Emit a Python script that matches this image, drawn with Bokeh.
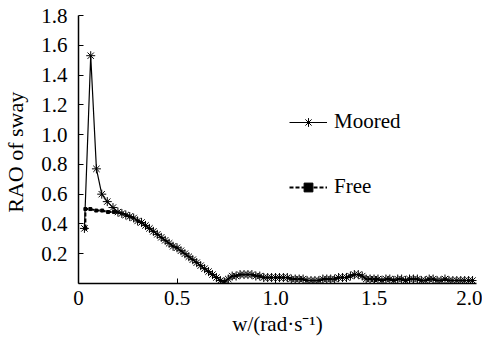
from bokeh.plotting import figure
from bokeh.models import Range1d, FixedTicker, Legend, LegendItem
from bokeh.core.properties import value
from bokeh.embed import file_html
from bokeh.resources import INLINE

# ---- data ----
moored_w = [0.03, 0.062, 0.091, 0.118, 0.146, 0.175,
            0.20, 0.22, 0.24, 0.26, 0.28, 0.30, 0.32, 0.34, 0.36, 0.38,
            0.40, 0.42, 0.44, 0.46, 0.48, 0.50, 0.52, 0.54, 0.56, 0.58,
            0.60, 0.62, 0.64, 0.66, 0.68, 0.70, 0.72, 0.74, 0.76, 0.78,
            0.80, 0.82, 0.84, 0.86, 0.88, 0.90, 0.92, 0.94, 0.96, 0.98,
            1.00, 1.02, 1.04, 1.06, 1.08, 1.10, 1.12, 1.14, 1.16, 1.18,
            1.20, 1.22, 1.24, 1.26, 1.28, 1.30, 1.32, 1.34, 1.36, 1.38,
            1.40, 1.42, 1.44, 1.46, 1.48, 1.50, 1.52, 1.54, 1.56, 1.58,
            1.60, 1.62, 1.64, 1.66, 1.68, 1.70, 1.72, 1.74, 1.76, 1.78,
            1.80, 1.82, 1.84, 1.86, 1.88, 1.90, 1.92, 1.94, 1.96, 1.98, 2.00]
moored_rao = [0.37, 1.53, 0.77, 0.60, 0.55, 0.51,
              0.48, 0.47, 0.46, 0.45, 0.44, 0.42, 0.41, 0.39, 0.37, 0.35,
              0.33, 0.31, 0.29, 0.27, 0.25, 0.24, 0.22, 0.20, 0.18, 0.16,
              0.14, 0.12, 0.10, 0.08, 0.06, 0.04, 0.02, 0.01, 0.03, 0.05,
              0.05, 0.06, 0.06, 0.06, 0.06, 0.05, 0.05, 0.04, 0.04, 0.04,
              0.04, 0.04, 0.04, 0.04, 0.03, 0.03, 0.03, 0.03, 0.02, 0.02,
              0.02, 0.02, 0.03, 0.03, 0.03, 0.03, 0.04, 0.04, 0.04, 0.05,
              0.06, 0.06, 0.05, 0.03, 0.03, 0.03, 0.03, 0.02, 0.03, 0.03,
              0.02, 0.03, 0.03, 0.02, 0.03, 0.03, 0.03, 0.02, 0.02, 0.03,
              0.03, 0.02, 0.02, 0.03, 0.02, 0.02, 0.02, 0.02, 0.02, 0.02, 0.02]

free_head_w = [0.035, 0.035, 0.06, 0.09, 0.12, 0.15, 0.18]
free_head_rao = [0.37, 0.50, 0.50, 0.49, 0.49, 0.48, 0.48]
free_w = free_head_w + moored_w[6:]
free_rao = free_head_rao + moored_rao[6:]

y_ticks = [0.2, 0.4, 0.6, 0.8, 1.0, 1.2, 1.4, 1.6, 1.8]
x_ticks = [0, 0.5, 1.0, 1.5, 2.0]
x_tick_labels = ["0", "0.5", "1.0", "1.5", "2.0"]
y_label = "RAO of  sway"
x_label = "w/(rad·s⁻¹)"
series_names = ["Moored", "Free"]

FONT = "Liberation Serif"

p = figure(width=482, height=341, output_backend="svg", toolbar_location=None,
           x_range=Range1d(0, 2.02), y_range=Range1d(0, 1.8),
           min_border_left=76, min_border_right=6, min_border_top=15,
           min_border_bottom=58)
p.outline_line_color = None
p.xgrid.visible = False
p.ygrid.visible = False
p.background_fill_color = "white"

# axes
for ax in (p.xaxis[0], p.yaxis[0]):
    ax.axis_line_color = "black"
    ax.axis_line_width = 1.5
    ax.major_tick_line_color = "black"
    ax.major_tick_line_width = 1
    ax.major_tick_in = 5
    ax.major_tick_out = 0
    ax.minor_tick_line_color = None
    ax.major_label_text_font = FONT
    ax.major_label_text_font_size = "21px"
    ax.major_label_text_color = "black"
    ax.axis_label_text_font = FONT
    ax.axis_label_text_font_style = "normal"
    ax.axis_label_text_color = "black"

p.yaxis.ticker = FixedTicker(ticks=y_ticks)
p.yaxis.major_label_overrides = {t: f"{t:.1f}" for t in y_ticks}
p.yaxis.major_label_standoff = 11
p.yaxis.axis_label = y_label
p.yaxis.axis_label_text_font_size = "22px"
p.yaxis.axis_label_standoff = 10

p.xaxis.ticker = FixedTicker(ticks=x_ticks)
p.xaxis.major_label_overrides = {t: s for t, s in zip(x_ticks, x_tick_labels)}
p.xaxis.major_label_standoff = 7
p.xaxis.axis_label = x_label
p.xaxis.axis_label_text_font_size = "21px"
p.xaxis.axis_label_standoff = 4

# an empty text glyph in the serif font so the browser loads that font
p.text(x=moored_w[:1], y=moored_rao[:1], text=[""], text_font=value(FONT),
       text_font_size="21px")

# series
r_free_line = p.line(free_w, free_rao, line_color="black", line_width=2,
                     line_dash="4 2")
r_free_mk = p.scatter(free_w[:7], free_rao[:7], marker="square", size=3,
                      color="black")
r_moor_line = p.line(moored_w, moored_rao, line_color="black", line_width=1.2)
r_moor_mk = p.scatter(moored_w, moored_rao, marker="asterisk", size=9,
                      line_color="black", line_width=1)

legend = Legend(items=[
    LegendItem(label=series_names[0], renderers=[r_moor_line, r_moor_mk]),
    LegendItem(label=series_names[1], renderers=[r_free_line, r_free_mk]),
], location=(211, 84), orientation="vertical")
legend.border_line_color = None
legend.background_fill_alpha = 0
legend.padding = 0
legend.margin = 0
legend.spacing = 40
legend.glyph_width = 38
legend.glyph_height = 22
legend.label_height = 22
legend.label_standoff = 7
legend.label_text_font = FONT
legend.label_text_font_size = "21px"
legend.label_text_color = "black"
p.add_layout(legend, "center")

open("out.html", "w").write(file_html(p, INLINE))
